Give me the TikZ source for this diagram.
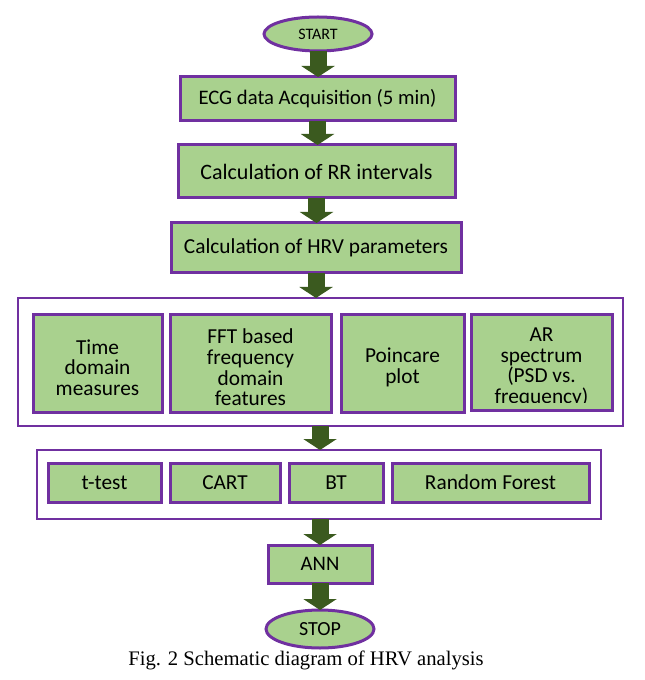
\documentclass[tikz,border=0pt]{standalone}
\usepackage{fontspec}
\setmainfont{Carlito}
\newfontfamily\capfont{Liberation Serif}
\usetikzlibrary{shapes.geometric,arrows.meta}
\definecolor{purp}{HTML}{7030A0}
\definecolor{grn}{HTML}{A9D18E}
\definecolor{dkg}{HTML}{3B5A1F}
\begin{document}
\begin{tikzpicture}[x=0.75pt,y=-0.75pt,
  box/.style={draw=purp, fill=grn, line width=2.25pt, inner sep=0pt, outer sep=0pt,
    font=\fontsize{15.5}{17.5}\selectfont, align=center},
  innertext/.style={inner sep=0pt, align=center, font=\fontsize{16}{15.5}\selectfont, yshift=-3pt},
  frame/.style={draw=purp, fill=white, line width=2pt, inner sep=0pt, outer sep=0pt},
  term/.style={ellipse, draw=purp, fill=grn, line width=2.25pt, inner sep=0pt, outer sep=0pt},
  arr/.style={draw=dkg, line width=12.75pt, -{Triangle[width=24.75pt,length=8.25pt]}}]
\useasboundingbox (0,0) rectangle (644,680);
% terminals and main steps
\node[term, minimum width=108*0.75pt, minimum height=34*0.75pt, font=\fontsize{12}{14}\selectfont] (start) at (318,34) {START};
\node[box, minimum width=275*0.75pt, minimum height=44*0.75pt] (ecg) at (317.5,99) {ECG data Acquisition (5 min)};
\node[box, minimum width=277*0.75pt, minimum height=53*0.75pt, font=\fontsize{16.5}{18}\selectfont] (rr) at (316.5,171.5) {Calculation of RR intervals};
\node[box, minimum width=290*0.75pt, minimum height=50*0.75pt, font=\fontsize{16}{18}\selectfont] (hrv) at (316,248) {Calculation of HRV parameters};
% frame 1
\node[frame, minimum width=605*0.75pt, minimum height=128*0.75pt] (f1) at (320.5,362) {};
\node[box, minimum width=129*0.75pt, minimum height=98*0.75pt] (time) at (97.5,363.5) {};
\node[innertext] (timet) at (time.center) {Time\\domain\\measures};
\node[box, minimum width=161*0.75pt, minimum height=98*0.75pt] (fft) at (250.5,363.5) {};
\node[innertext] (fftt) at (fft.center) {FFT based\\frequency\\domain\\features};
\node[box, minimum width=123*0.75pt, minimum height=98*0.75pt] (poin) at (402.5,363.5) {};
\node[innertext] (point) at (poin.center) {Poincare\\plot};
\node[box, minimum width=141*0.75pt, minimum height=96*0.75pt] (ar) at (541.5,362.5) {};
\begin{scope}
  \clip ([xshift=1.2pt,yshift=-1.2pt]ar.north west) rectangle (ar.east |- 0,402);
  \node[innertext] (art) at (541.5,363.5) {AR\\spectrum\\(PSD vs.\\frequency)};
\end{scope}
\draw[draw=purp, line width=2.25pt] (ar.south west) rectangle (ar.north east);
% frame 2
\node[frame, minimum width=564*0.75pt, minimum height=69*0.75pt] (f2) at (319,484.5) {};
\node[box, font=\fontsize{16}{18}\selectfont, minimum width=113*0.75pt, minimum height=39*0.75pt] (ttest) at (104.5,482.5) {t-test};
\node[box, font=\fontsize{16}{18}\selectfont, minimum width=110*0.75pt, minimum height=39*0.75pt] (cart) at (225,482.5) {CART};
\node[box, font=\fontsize{16}{18}\selectfont, minimum width=94*0.75pt, minimum height=39*0.75pt] (bt) at (336,482.5) {BT};
\node[box, font=\fontsize{16}{18}\selectfont, minimum width=197*0.75pt, minimum height=39*0.75pt] (rf) at (490.5,482.5) {Random Forest};
\node[box, minimum width=104*0.75pt, minimum height=38*0.75pt] (ann) at (320,564) {ANN};
\node[term, minimum width=108*0.75pt, minimum height=38*0.75pt, font=\fontsize{15}{16}\selectfont] (stop) at (320,629) {STOP};
% arrows
\draw[arr] (start.south) -- (start.south |- ecg.north);
\draw[arr] (ecg.south) -- (ecg.south |- rr.north);
\draw[arr] (rr.south) -- (rr.south |- hrv.north);
\draw[arr] (hrv.south) -- (hrv.south |- f1.north);
\draw[arr] (f1.south -| ann.north) -- (ann.north |- f2.north);
\draw[arr] (f2.south -| ann.north) -- (ann.north);
\draw[arr] (ann.south) -- (stop.north);
% caption
\node[anchor=base, inner sep=0pt, font=\capfont\fontsize{15.5}{18}\selectfont] (cap) at (306,665) {Fig. 2 Schematic diagram of HRV analysis};
\end{tikzpicture}
\end{document}
